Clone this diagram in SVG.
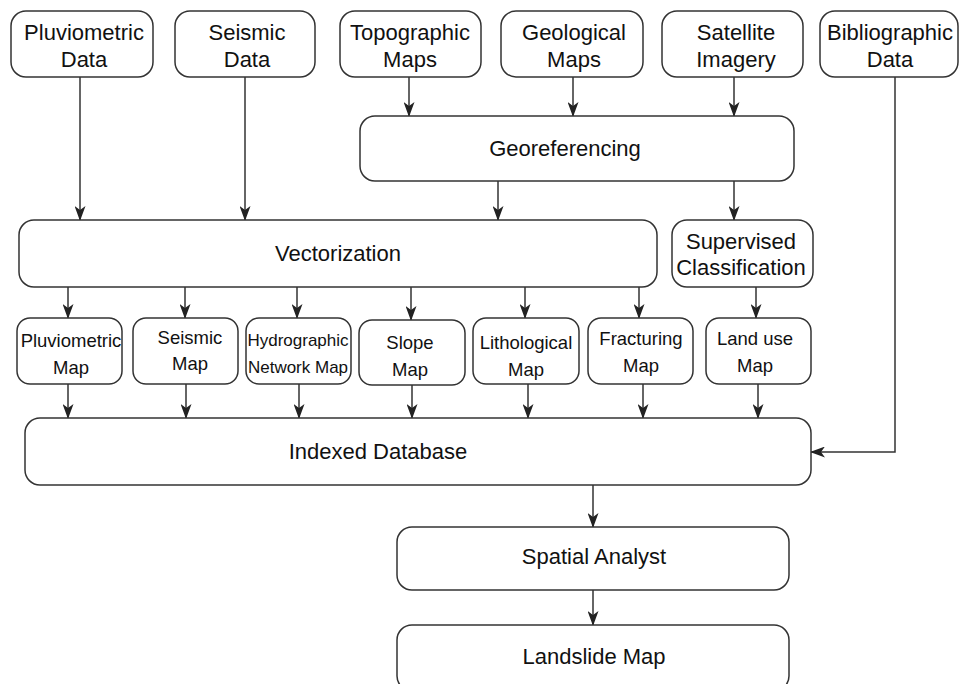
<svg xmlns="http://www.w3.org/2000/svg" width="966" height="684" viewBox="0 0 966 684">
<style>
.box{fill:#fff;stroke:#333;stroke-width:1.5}
.t{font-family:"Liberation Sans",Arial,sans-serif;fill:#111;text-anchor:middle;font-size:22px}
.s{font-size:18.5px}
.h{font-size:17px}
.c{fill:none;stroke:#333;stroke-width:1.5;marker-end:url(#ah)}
</style>
<defs>
<marker id="ah" markerUnits="userSpaceOnUse" markerWidth="15" markerHeight="11" refX="14" refY="5.5" orient="auto" viewBox="0 0 15 11">
<path d="M0,0 L15,5.5 L0,11 L4,5.5 z" fill="#222"/>
</marker>
</defs>
<rect width="966" height="684" fill="#fff"/>
<g id="connectors">
<path class="c" d="M80,77 V220"/>
<path class="c" d="M245,77 V220"/>
<path class="c" d="M409,77 V116"/>
<path class="c" d="M573,77 V116"/>
<path class="c" d="M734,77 V116"/>
<path class="c" d="M498,181 V220"/>
<path class="c" d="M734,181 V220"/>
<path class="c" d="M68,287 V318"/>
<path class="c" d="M185,287 V318"/>
<path class="c" d="M297,287 V318"/>
<path class="c" d="M411,287 V320"/>
<path class="c" d="M525,287 V318"/>
<path class="c" d="M639,287 V318"/>
<path class="c" d="M756,287 V318"/>
<path class="c" d="M68,384 V418"/>
<path class="c" d="M186,384 V418"/>
<path class="c" d="M299,384 V418"/>
<path class="c" d="M412,385 V418"/>
<path class="c" d="M528,384 V418"/>
<path class="c" d="M643,384 V418"/>
<path class="c" d="M758,384 V418"/>
<path class="c" d="M895,77 V452 H811"/>
<path class="c" d="M593,485 V527"/>
<path class="c" d="M593,590 V625"/>
</g>
<g id="pluviometric-data"><rect class="box" x="11" y="11" width="142" height="66" rx="15"/><text class="t" x="84" y="40">Pluviometric</text><text class="t" x="84" y="67">Data</text></g>
<g id="seismic-data"><rect class="box" x="175" y="11" width="140" height="66" rx="15"/><text class="t" x="247" y="40">Seismic</text><text class="t" x="247" y="67">Data</text></g>
<g id="topographic-maps"><rect class="box" x="340" y="11" width="141" height="66" rx="15"/><text class="t" x="410" y="40">Topographic</text><text class="t" x="410" y="67">Maps</text></g>
<g id="geological-maps"><rect class="box" x="501" y="11" width="142" height="66" rx="15"/><text class="t" x="574" y="40">Geological</text><text class="t" x="574" y="67">Maps</text></g>
<g id="satellite-imagery"><rect class="box" x="662" y="11" width="141" height="66" rx="15"/><text class="t" x="736" y="40">Satellite</text><text class="t" x="736" y="67">Imagery</text></g>
<g id="bibliographic-data"><rect class="box" x="820" y="11" width="138" height="66" rx="15"/><text class="t" x="890" y="40">Bibliographic</text><text class="t" x="890" y="67">Data</text></g>
<g id="georeferencing"><rect class="box" x="360" y="116" width="434" height="65" rx="15"/><text class="t" x="565" y="156">Georeferencing</text></g>
<g id="vectorization"><rect class="box" x="19" y="220" width="638" height="67" rx="15"/><text class="t" x="338" y="261">Vectorization</text></g>
<g id="supervised-classification"><rect class="box" x="672" y="220" width="141" height="67" rx="15"/><text class="t" x="741" y="249">Supervised</text><text class="t" x="741" y="275">Classification</text></g>
<g id="pluviometric-map"><rect class="box" x="17" y="318" width="105" height="66" rx="13"/><text class="t s" x="71" y="347">Pluviometric</text><text class="t s" x="71" y="374">Map</text></g>
<g id="seismic-map"><rect class="box" x="133" y="318" width="105" height="66" rx="13"/><text class="t s" x="190" y="344">Seismic</text><text class="t s" x="190" y="370">Map</text></g>
<g id="hydrographic-network-map"><rect class="box" x="246" y="318" width="105" height="66" rx="13"/><text class="t h" x="298" y="346">Hydrographic</text><text class="t h" x="298" y="373">Network Map</text></g>
<g id="slope-map"><rect class="box" x="359" y="320" width="106" height="65" rx="13"/><text class="t s" x="410" y="349">Slope</text><text class="t s" x="410" y="376">Map</text></g>
<g id="lithological-map"><rect class="box" x="473" y="318" width="106" height="66" rx="13"/><text class="t s" x="526" y="349">Lithological</text><text class="t s" x="526" y="376">Map</text></g>
<g id="fracturing-map"><rect class="box" x="588" y="318" width="105" height="66" rx="13"/><text class="t s" x="641" y="345">Fracturing</text><text class="t s" x="641" y="372">Map</text></g>
<g id="land-use-map"><rect class="box" x="706" y="318" width="105" height="66" rx="13"/><text class="t s" x="755" y="345">Land use</text><text class="t s" x="755" y="372">Map</text></g>
<g id="indexed-database"><rect class="box" x="25" y="418" width="786" height="67" rx="15"/><text class="t" x="378" y="459">Indexed Database</text></g>
<g id="spatial-analyst"><rect class="box" x="397" y="527" width="392" height="63" rx="15"/><text class="t" x="594" y="564">Spatial Analyst</text></g>
<g id="landslide-map"><rect class="box" x="397" y="625" width="392" height="66" rx="15"/><text class="t" x="594" y="664">Landslide Map</text></g>
</svg>
